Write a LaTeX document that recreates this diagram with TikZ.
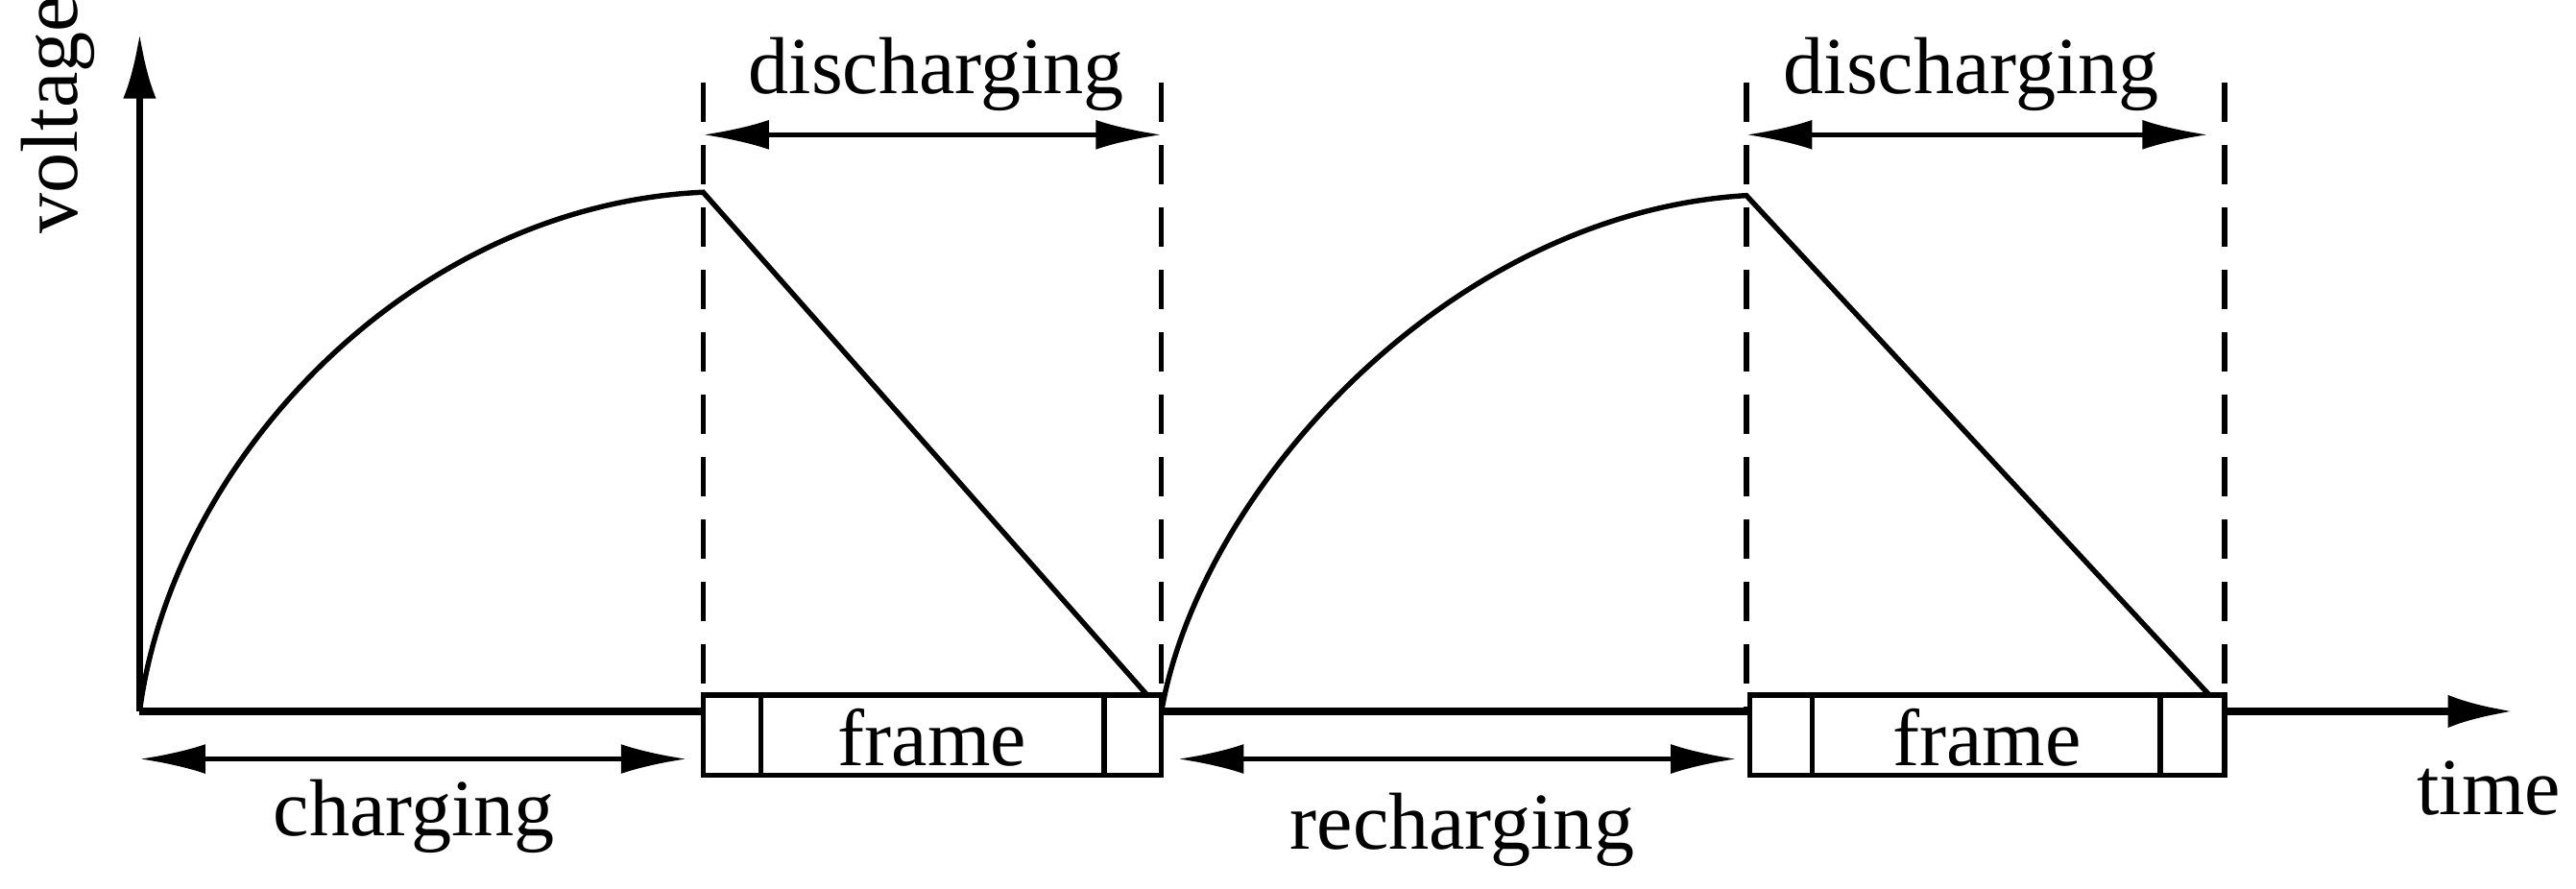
\documentclass[tikz,border=0pt]{standalone}
\usepackage{fontspec}
\setmainfont{Liberation Serif}
\usetikzlibrary{arrows.meta,positioning}
\tikzset{
	lbl/.style={font=\fontsize{14}{16}\selectfont},
	dim/.style={{Latex[length=4mm,width=1.8mm]}-{Latex[length=4mm,width=1.8mm]},line width=0.8pt},
	bound/.style={dashed,dash pattern=on 2.4mm off 1.4mm,line width=0.9pt}
}
\begin{document}
\begin{tikzpicture}[x=0.1mm,y=-0.1mm,line width=0.9pt]
		\useasboundingbox (0,0) rectangle (1568,541);
		\coordinate (o) at (85,433);
		\coordinate (ytop) at (85,20);
		\coordinate (xend) at (1530,433);
		\coordinate (p1) at (428,117);
		\coordinate (z1) at (707,433);
		\coordinate (p2) at (1063,119);
		\coordinate (z2) at (1354,433);
		% axes
		\draw[line width=1.3pt,-{Latex[length=4mm,width=2mm]}] (o) -- (ytop);
		\draw[line width=1.3pt,-{Latex[length=4mm,width=2mm]}] (o) -- (xend);
		\node[lbl,rotate=90] (volt) at (35,70) {voltage};
		\node[lbl] (time) at (1515,480) {time};
		% voltage curve
		\draw (o) .. controls (105,280) and (250,125) .. (p1) -- (z1)
			.. controls (730,300) and (880,130) .. (p2) -- (z2);
		% bounds
		\foreach \x/\n in {428/a,707/b,1063/c,1354/d} {
			\coordinate (\n t) at (\x,50);
			\coordinate (\n b) at (\x,433);
			\draw[bound] (\n t) -- (\n b);
		}
		% frames
		\foreach \l/\r/\i/\j/\n in {428/707/463/672/f1,1065/1354/1103/1315/f2} {
			\draw[fill=white] (\l,423) rectangle (\r,472);
			\draw (\i,423) -- (\i,472);
			\draw (\j,423) -- (\j,472);
			\node[lbl] (\n) at ({(\l+\r)/2},449) {frame};
		}
		% intervals
		\coordinate (d1l) at (428,82); \coordinate (d1r) at (707,82);
		\coordinate (d2l) at (1063,82); \coordinate (d2r) at (1344,82);
		\coordinate (cl) at (85,462); \coordinate (cr) at (418,462);
		\coordinate (rl) at (717,462); \coordinate (rr) at (1057,462);
		\draw[dim] (d1l) -- (d1r);
		\draw[dim] (d2l) -- (d2r);
		\draw[dim] (cl) -- (cr);
		\draw[dim] (rl) -- (rr);
		\node[lbl] (dis1) at (570,45) {discharging};
		\node[lbl] (dis2) at (1200,45) {discharging};
		\node[lbl] (chg) at (252,497) {charging};
		\node[lbl] (rchg) at (890,505) {recharging};
\end{tikzpicture}
\end{document}
